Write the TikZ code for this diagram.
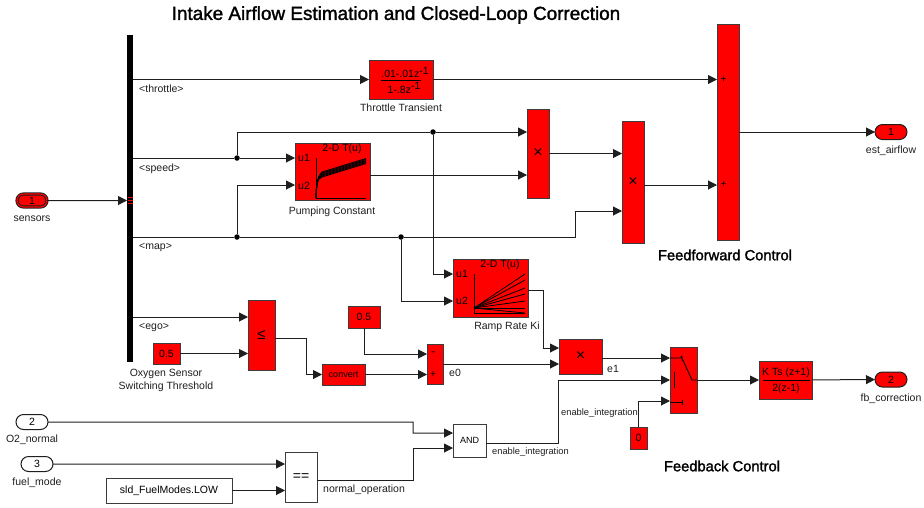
\documentclass[tikz,border=0pt]{standalone}
\usepackage{xcolor}
\usepackage{fontspec}
\setmainfont{Liberation Sans}
\newfontfamily\headfont[FakeBold=1.6]{Liberation Sans}
\usepackage{tikz}
\usetikzlibrary{shapes.misc, arrows.meta, calc}
\definecolor{myred}{RGB}{255,0,0}
\definecolor{mydark}{RGB}{30,30,30}
\definecolor{myedge}{RGB}{60,60,60}
\newcommand{\txtsz}{\fontsize{10.5}{13}\selectfont}
\newcommand{\prodsz}{\fontsize{16}{17}\selectfont}
\tikzset{
  blk/.style={rectangle, draw=myedge, fill=myred, inner sep=0pt, outer sep=0pt, line width=1pt, font=\txtsz},
  wblk/.style={rectangle, draw=myedge, fill=white, inner sep=0pt, outer sep=0pt, line width=1pt, font=\txtsz},
  port/.style={rounded rectangle, draw=mydark, inner sep=0pt, outer sep=0pt, minimum width=32pt, minimum height=15pt, line width=1pt, font=\txtsz},
  lbl/.style={inner sep=0pt, text=mydark, align=center, font=\txtsz},
  head/.style={inner sep=0pt, font=\headfont\fontsize{14.7}{16}\selectfont},
  dot/.style={circle, fill=black, inner sep=0pt, minimum size=5.5pt},
  arrow/.style={-{Triangle[length=9pt,width=9pt]}, line width=1pt, color=mydark},
  wire/.style={line width=1pt, color=mydark},
  icon/.style={line width=0.9pt, color=black},
  sgn/.style={inner sep=0pt, font=\fontsize{10}{11}\selectfont}
}
\begin{document}
\begin{tikzpicture}[x=1pt,y=-1pt]
  \useasboundingbox (0,0) rectangle (924,507);

  \node[head, font=\headfont\fontsize{18.9}{20}\selectfont] (title) at (396,15) {Intake Airflow Estimation and Closed-Loop Correction};
  \node[head] (ffwd) at (725,255) {Feedforward Control};
  \node[head] (fbck) at (722,466) {Feedback Control};

  % blocks
  \node[rectangle, fill=black, inner sep=0pt, outer sep=0pt, minimum width=6pt, minimum height=327pt] (bus) at (130,198.5) {};
  \node[blk, minimum width=64pt, minimum height=39pt] (thr) at (401,79.5) {};
  \node[blk, minimum width=75pt, minimum height=57pt] (pump) at (332.5,171.5) {};
  \node[blk, minimum width=75pt, minimum height=58pt] (ramp) at (490.5,288) {};
  \node[blk, minimum width=22pt, minimum height=89pt, font=\prodsz] (prod1) at (538,153.5) {×};
  \node[blk, minimum width=22pt, minimum height=122pt, font=\prodsz] (prod2) at (633,182) {×};
  \node[blk, minimum width=22pt, minimum height=216pt] (sum1) at (728,132) {};
  \node[blk, minimum width=43pt, minimum height=35pt, font=\prodsz] (prod3) at (580.5,356.5) {×};
  \node[blk, minimum width=27pt, minimum height=66pt] (swi) at (683.5,380) {};
  \node[blk, minimum width=53pt, minimum height=38pt] (kts) at (785.5,380) {};
  \node[blk, minimum width=27pt, minimum height=70pt, font=\fontsize{15}{16}\selectfont] (rel) at (261.5,335) {≤};
  \node[blk, minimum width=43pt, minimum height=21pt, font=\fontsize{9}{10}\selectfont] (conv) at (343.5,374.5) {convert};
  \node[blk, minimum width=16pt, minimum height=40pt] (sum2) at (435,364) {};
  \node[blk, minimum width=32pt, minimum height=22pt] (cona) at (364,317) {0.5};
  \node[blk, minimum width=27pt, minimum height=21pt] (conb) at (166.5,353.5) {0.5};
  \node[blk, minimum width=17pt, minimum height=22pt] (conz) at (638.5,438) {0};
  \node[wblk, minimum width=33pt, minimum height=33pt, font=\fontsize{9}{10}\selectfont] (andb) at (469.5,440.5) {AND};
  \node[wblk, minimum width=32pt, minimum height=50pt, font=\fontsize{14}{15}\selectfont] (eq) at (301,477) {==};
  \node[wblk, minimum width=126pt, minimum height=25pt] (lowc) at (169,490.5) {sld\_FuelModes.LOW};

  % ports
  \node[port, fill=myred, double=myred, double distance=1.2pt, draw=mydark, minimum width=30pt, minimum height=13pt] (sensors) at (32,200.5) {1};
  \node[port, fill=myred] (est) at (891,132) {1};
  \node[port, fill=myred] (fbc) at (891,379.5) {2};
  \node[port, fill=white] (otwo) at (32,422) {2};
  \node[port, fill=white] (fuel) at (37,464) {3};

  % bus marks
  \node[rectangle, fill=myred, inner sep=0pt, minimum width=5pt, minimum height=1.5pt] (mka) at (130.5,197.5) {};
  \node[rectangle, fill=myred, inner sep=0pt, minimum width=5pt, minimum height=1.5pt] (mkb) at (130.5,200.5) {};
  \node[rectangle, fill=myred, inner sep=0pt, minimum width=5pt, minimum height=1.5pt] (mkc) at (130.5,203.5) {};

  % input points
  \coordinate (sumA) at (717,79.5);
  \coordinate (sumB) at (717,185);
  \coordinate (pumpB) at (295,185);
  \coordinate (rampA) at (453,274);
  \coordinate (rampB) at (453,301);
  \coordinate (prodB) at (527,175);
  \coordinate (prodC) at (622,153.5);
  \coordinate (prodD) at (622,211);
  \coordinate (prodE) at (559,348);
  \coordinate (prodF) at (559,364);
  \coordinate (relA) at (248,317);
  \coordinate (relO) at (275,338);
  \coordinate (sumC) at (427,354);
  \coordinate (swiA) at (670,358);
  \coordinate (swiC) at (670,401);
  \coordinate (andA) at (453,433);
  \coordinate (andC) at (453,448);
  \coordinate (andO) at (486,443);
  \coordinate (eqA) at (285,464);
  \coordinate (eqO) at (317,480);
  \coordinate (rampO) at (528,290);
  \coordinate (pumpO) at (370,175);

  % junctions
  \node[dot] (ja) at (237,158) {};
  \node[dot] (jb) at (433,132) {};
  \node[dot] (jc) at (237,237) {};
  \node[dot] (jd) at (401,237) {};

  % connectors
  \draw[arrow] (sensors) -- (bus.west |- sensors);
  \draw[arrow] (bus.east |- thr) -- (thr);
  \draw[arrow] (thr) -- (sumA);
  \draw[wire] (bus.east |- ja) -- (ja);
  \draw[arrow] (ja) -- (pump.west |- ja);
  \draw[wire] (ja) |- (jb);
  \draw[arrow] (jb) -- (prod1.west |- jb);
  \draw[arrow] (jb) |- (rampA);
  \draw[wire] (bus.east |- jc) -- (jc);
  \draw[wire] (jc) -- (jd);
  \draw[arrow] (jc) |- (pumpB);
  \draw[arrow] (jd) |- (rampB);
  \draw[arrow] (jd) -- ++(174,0) |- (prodD);
  \draw[arrow] (pumpO) -- (prodB);
  \draw[arrow] (prod1) -- (prodC);
  \draw[arrow] (prod2.east |- sumB) -- (sumB);
  \draw[arrow] (sum1) -- (est);
  \draw[arrow] (rampO) -- ++(15,0) |- (prodE);
  \draw[arrow] (sum2) -- (prodF);
  \draw[arrow] (prod3.east |- swiA) -- (swiA);
  \draw[arrow] (andO) -- ++(72,0) |- (swi);
  \draw[arrow] (conz) |- (swiC);
  \draw[arrow] (swi) -- (kts);
  \draw[arrow] (kts) -- (fbc);
  \draw[arrow] (bus.east |- relA) -- (relA);
  \draw[arrow] (conb) -- (rel.west |- conb);
  \draw[arrow] (relO) -- ++(31,0) |- (conv);
  \draw[arrow] (conv) -- (sum2.west |- conv);
  \draw[arrow] (cona) |- (sumC);
  \draw[arrow] (otwo) -- ++(381,0) |- (andA);
  \draw[arrow] (eqO) -- ++(96,0) |- (andC);
  \draw[arrow] (fuel) -- (eqA);
  \draw[arrow] (lowc) -- (eq.west |- lowc);

  % block contents
  \node[lbl, text=black] (thrn) at (405,72.5) {.01-.01z\raisebox{3.5pt}{-1}};
  \node[lbl, text=black] (thrd) at (404,88) {1-.8z\raisebox{3.5pt}{-1}};
  \draw[icon] (381,80) -- (421,80);
  \node[lbl, text=black] (ktsn) at (786,373) {K Ts (z+1)};
  \node[lbl, text=black] (ktsd) at (786,389) {2(z-1)};
  \draw[icon] (763,380) -- (810,380);
  \node[lbl, text=black] (pumpu) at (304,158) {u1};
  \node[lbl, text=black] (pumpv) at (304,186) {u2};
  \node[lbl, text=black] (pumpt) at (342,149) {2-D T(u)};
  \node[lbl, text=black] (rampu) at (462,274) {u1};
  \node[lbl, text=black] (rampv) at (462,301) {u2};
  \node[lbl, text=black] (rampt) at (500,265) {2-D T(u)};
  \draw[line width=0.5pt] (316,158) -- (316,198) -- (366,198);
  \foreach \off in {0,1,...,5}
    \draw[line width=0.9pt] (316,198) .. controls (316.5,187) and (316.5,178) .. ($(322,172)+(0,\off)$) -- ($(366,158.5)+(0,\off)$);
  \draw[line width=0.5pt] (474,274) -- (474,313) -- (525,313);
  \foreach \yend in {274,280,288,294,301,308,313}
    \draw[line width=0.8pt] (474,308) -- (525,\yend);
  \node[sgn] (plsa) at (723.5,80) {+};
  \node[sgn] (plsb) at (723.5,185) {+};
  \node[sgn, font=\fontsize{12}{13}\selectfont] (mnsa) at (433,354) {-};
  \node[sgn] (plsc) at (433,375) {+};
  \draw[icon] (670,358) -- (682,358) (682,355.5) -- (682,360.5) (681,356) -- (692,380) -- (697,380);
  \draw[icon] (674,372) -- (674,388);
  \draw[icon] (670,402) -- (682,402) (682,400) -- (682,405);

  % labels
  \node[lbl] (lsens) at (32,218.5) {sensors};
  \node[lbl, anchor=west] (lthr) at (139,89) {<throttle>};
  \node[lbl, anchor=west] (lspd) at (139,169) {<speed>};
  \node[lbl, anchor=west] (lmap) at (139,248) {<map>};
  \node[lbl, anchor=west] (lego) at (139,328) {<ego>};
  \node[lbl] (ltt) at (401,108) {Throttle Transient};
  \node[lbl] (lpc) at (332,211.5) {Pumping Constant};
  \node[lbl] (lrr) at (507,326.5) {Ramp Rate Ki};
  \node[lbl] (lox) at (166,380.5) {Oxygen Sensor\\Switching Threshold};
  \node[lbl, anchor=west] (le0) at (449,373) {e0};
  \node[lbl, anchor=west] (le1) at (607,369) {e1};
  \node[lbl] (lest) at (891,150.5) {est\_airflow};
  \node[lbl] (lfb) at (891,398.5) {fb\_correction};
  \node[lbl] (lo2) at (32,439.5) {O2\_normal};
  \node[lbl] (lfm) at (37,482.5) {fuel\_mode};
  \node[lbl, anchor=west] (lno) at (323,489.5) {normal\_operation};
  \node[lbl, anchor=west, font=\fontsize{9.3}{11}\selectfont] (lena) at (492,452.5) {enable\_integration};
  \node[lbl, anchor=west, font=\fontsize{9.3}{11}\selectfont] (lenb) at (561,413.5) {enable\_integration};

\end{tikzpicture}
\end{document}
